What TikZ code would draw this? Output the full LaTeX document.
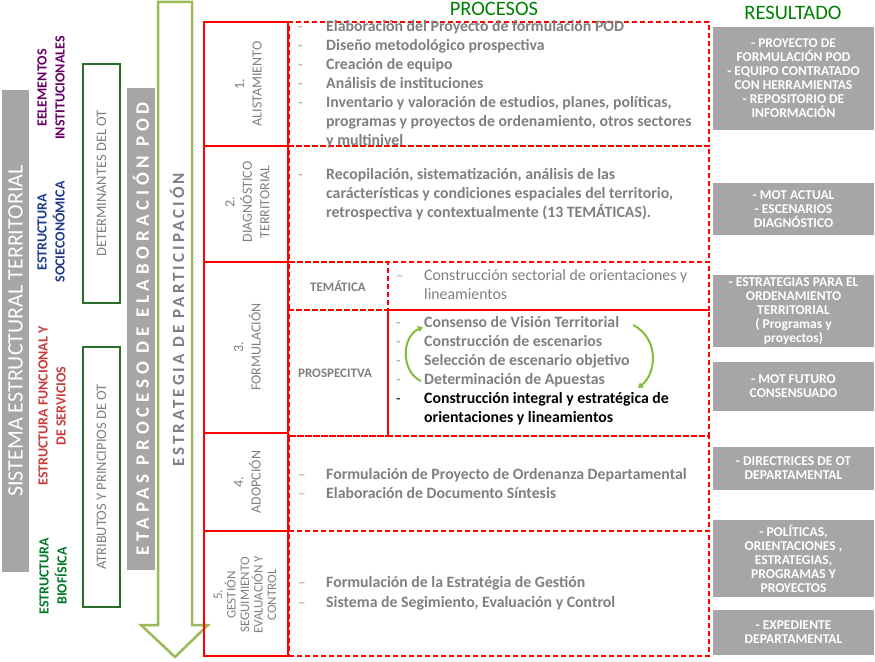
\documentclass[tikz,border=0pt]{standalone}
\usepackage{fontspec}
\setmainfont{Carlito}
\usetikzlibrary{arrows.meta}
\definecolor{redl}{RGB}{255,0,0}
\definecolor{grayt}{RGB}{127,127,127}
\definecolor{grayd}{RGB}{160,160,160}
\definecolor{grayb}{RGB}{166,166,166}
\definecolor{arrowgreen}{RGB}{155,187,89}
\definecolor{hdrgreen}{RGB}{0,128,0}
\definecolor{purp}{RGB}{102,0,102}
\definecolor{navyb}{RGB}{32,56,140}
\definecolor{dred}{RGB}{200,60,60}
\definecolor{dgreen}{RGB}{0,120,40}
\definecolor{boxgreen}{RGB}{40,110,40}
\definecolor{curvegreen}{RGB}{130,190,60}
\begin{document}
\begin{tikzpicture}[x=1pt,y=-1pt,
  stagebox/.style={draw=redl, line width=1.3pt, inner sep=0pt, outer sep=0pt, anchor=north west},
  dbox/.style={draw=redl, dash pattern=on 5pt off 3pt, line width=1.1pt, inner sep=0pt, outer sep=0pt, anchor=north west},
  proc/.style={text=grayt, font=\bfseries\fontsize{15.8}{19}\selectfont, inner sep=0pt, anchor=base west},
  procn/.style={text=grayt, font=\fontsize{15.8}{19}\selectfont, inner sep=0pt, anchor=base west},
  procb/.style={text=black, font=\bfseries\fontsize{15.8}{19}\selectfont, inner sep=0pt, anchor=base west},
  dashmark/.style={text=grayd, font=\fontsize{15}{19}\selectfont, inner sep=0pt, anchor=base west},
  slabel/.style={text=grayt, font=\fontsize{14}{17.5}\selectfont, rotate=90, align=center, inner sep=0pt},
  sublabel/.style={text=grayt, font=\bfseries\fontsize{13}{15}\selectfont, inner sep=0pt},
  rbox/.style={fill=grayb, text=white, font=\bfseries\fontsize{13.5}{14}\selectfont, align=center, minimum width=161pt, inner sep=0pt},
  leftlab/.style={font=\bfseries\fontsize{14}{18}\selectfont, rotate=90, align=center, inner sep=0pt},
  graybar/.style={fill=grayb, text=white, rotate=90, inner sep=0pt},
  greenbox/.style={draw=boxgreen, line width=1.1pt, text=grayt, font=\fontsize{14.5}{16}\selectfont, rotate=90, inner sep=0pt},
  hdr/.style={text=hdrgreen, font=\fontsize{20.5}{24}\selectfont, inner sep=0pt},
  curve/.style={draw=curvegreen, line width=2pt, -{Triangle[length=5pt,width=6pt]}}
]
\useasboundingbox (0,0) rectangle (875,661);

% big participation arrow
\draw[draw=arrowgreen, line width=2.5pt, fill=white, line join=miter]
  (158,2) -- (192,2) -- (192,625) -- (208,625) -- (175,657) -- (141,625) -- (158,625) -- cycle;
\node[text=grayt, font=\bfseries\fontsize{17}{20}\selectfont\addfontfeature{LetterSpace=18}, rotate=90, inner sep=0pt] (estr) at (177,320) {ESTRATEGIA DE PARTICIPACIÓN};

% gray bars
\node[graybar, minimum width=482pt, minimum height=27pt, font=\fontsize{22}{26}\selectfont] (sis) at (15.5,331) {SISTEMA ESTRUCTURAL TERRITORIAL};
\node[graybar, minimum width=482pt, minimum height=28pt, font=\bfseries\fontsize{19}{22}\selectfont\addfontfeature{LetterSpace=25}] (etapas) at (141,329) {ETAPAS PROCESO DE ELABORACIÓN POD};

% left labels
\node[leftlab, text=purp] (inst) at (51,88) {EELEMENTOS\\INSTITUCIONALES};
\node[leftlab, text=navyb] (socio) at (51,232) {ESTRUCTURA\\SOCIECONÓMICA};
\node[leftlab, text=dred] (func) at (52,406) {ESTRUCTURA FUNCIONAL Y\\DE  SERVICIOS};
\node[leftlab, text=dgreen] (bio) at (53,576) {ESTRUCTURA\\BIOFÍSICA};

% green outlined boxes
\node[greenbox, minimum width=239pt, minimum height=37pt] (det) at (101.5,183.5) {DETERMINANTES DEL OT};
\node[greenbox, minimum width=260pt, minimum height=37pt] (atr) at (101.5,477) {ATRIBUTOS Y PRINCIPIOS DE OT};

% headers
\node[hdr] (hproc) at (494,9) {PROCESOS};
\node[hdr] (hres) at (793,13) {RESULTADO};

% stage boxes
\node[stagebox, minimum width=84pt, minimum height=124pt] (st1) at (204,22) {};
\node[stagebox, minimum width=84pt, minimum height=116pt] (st2) at (204,146) {};
\node[stagebox, minimum width=84pt, minimum height=171pt] (st3) at (204,262) {};
\node[stagebox, minimum width=84pt, minimum height=98pt] (st4) at (204,433) {};
\node[stagebox, minimum width=84pt, minimum height=125pt] (st5) at (204,531) {};

% process boxes
\node[dbox, minimum width=420pt, minimum height=124pt] (p1) at (289,22) {};
\node[dbox, minimum width=420pt, minimum height=116pt] (p2) at (289,146) {};
\node[dbox, minimum width=99pt, minimum height=48pt] (p3a) at (289,262) {};
\node[dbox, minimum width=321pt, minimum height=48pt] (p3b) at (388,262) {};
\node[dbox, minimum width=99pt, minimum height=126pt] (p3c) at (289,310) {};
\node[dbox, minimum width=321pt, minimum height=126pt] (p3d) at (388,310) {};
\node[dbox, minimum width=420pt, minimum height=95pt] (p4) at (289,436) {};
\node[dbox, minimum width=420pt, minimum height=125pt] (p5) at (289,531) {};

% stage labels
\node[slabel] (l1) at (248.5,84) {1.\\ALISTAMIENTO};
\node[slabel] (l2) at (247.5,202) {2.\\DIAGNÓSTICO\\TERRITORIAL};
\node[slabel] (l3) at (247.5,347) {3.\\FORMULACIÓN};
\node[slabel] (l4) at (247.5,482) {4.\\ADOPCIÓN};
\node[slabel, font=\fontsize{13}{13.5}\selectfont] (l5) at (245,595) {5.\\GESTIÓN\\SEGUIMIENTO\\EVALUACIÓN Y\\CONTROL};

\node[sublabel] (tem) at (338,286) {TEMÁTICA};
\node[sublabel] (pros) at (335,373) {PROSPECITVA};

% stage 1 text
\foreach \t [count=\i] in {{Elaboración del Proyecto de formulación POD},{Diseño metodológico prospectiva},{Creación de equipo},{Análisis de instituciones},{Inventario y valoración  de estudios, planes, políticas,},{programas y  proyectos de ordenamiento, otros sectores},{y multinivel}}
  \node[proc] (a\i) at (326,{31.5+19*(\i-1)}) {\t};
\foreach \i in {1,...,5}
  \node[dashmark] (ad\i) at (298,{31.5+19*(\i-1)}) {-};

% stage 2 text
\foreach \t [count=\i] in {{Recopilación,  sistematización, análisis de las},{carácterísticas y condiciones espaciales del territorio,},{retrospectiva y contextualmente (13 TEMÁTICAS).}}
  \node[proc] (b\i) at (326,{179.5+19*(\i-1)}) {\t};
\node[dashmark] (bd1) at (298,179.5) {-};

% stage 3 tematica
\node[procn] (c1) at (424,280.5) {Construcción sectorial de orientaciones y};
\node[procn] (c2) at (424,299.5) {lineamientos};
\node[dashmark] (cd1) at (396,280.5) {–};

% stage 3 prospectiva
\foreach \t [count=\i] in {{Consenso de Visión Territorial},{Construcción de escenarios},{Selección  de escenario objetivo},{Determinación de Apuestas}}
  \node[proc] (d\i) at (424,{327.5+19*(\i-1)}) {\t};
\foreach \i in {1,...,4}
  \node[dashmark] (dd\i) at (396,{327.5+19*(\i-1)}) {-};
\node[procb] (d5) at (424,403.5) {Construcción integral y estratégica de};
\node[procb] (d6) at (424,422.5) {orientaciones y lineamientos};
\node[dashmark, text=black] (dd5) at (396,403.5) {-};

% cycle arrows
\coordinate (cl1) at (421,381);
\coordinate (cl2) at (423,327);
\coordinate (cr1) at (633,325);
\coordinate (cr2) at (638,388);
\draw[curve] (cl1) .. controls (401,372) and (401,337) .. (cl2);
\draw[curve] (cr1) .. controls (659,338) and (657,373) .. (cr2);

% stage 4 text
\node[proc] (e1) at (326,479.5) {Formulación de Proyecto de Ordenanza Departamental};
\node[proc] (e2) at (326,498.5) {Elaboración de Documento Síntesis};
\node[dashmark] (ed1) at (298,479.5) {–};
\node[dashmark] (ed2) at (298,498.5) {–};

% stage 5 text
\node[proc] (f1) at (326,587.5) {Formulación de la Estratégia de Gestión};
\node[proc] (f2) at (326,607) {Sistema de Segimiento, Evaluación y Control};
\node[dashmark] (fd1) at (298,587.5) {–};
\node[dashmark] (fd2) at (298,607) {–};

% results
\node[rbox, minimum height=103pt] (r1) at (793.5,78.5) {- PROYECTO DE\\FORMULACIÓN POD\\- EQUIPO CONTRATADO\\CON HERRAMIENTAS\\- REPOSITORIO DE\\INFORMACIÓN};
\node[rbox, minimum height=52pt] (r2) at (793.5,209) {- MOT ACTUAL\\- ESCENARIOS\\DIAGNÓSTICO};
\node[rbox, minimum height=72pt] (r3) at (793.5,311) {- ESTRATEGIAS PARA EL\\ORDENAMIENTO\\TERRITORIAL\\( Programas y\\proyectos)};
\node[rbox, minimum height=49pt] (r4) at (793.5,386.5) {- MOT FUTURO\\CONSENSUADO};
\node[rbox, minimum height=43pt] (r5) at (793.5,468.5) {- DIRECTRICES DE OT\\DEPARTAMENTAL};
\node[rbox, minimum height=77pt] (r6) at (793.5,558.5) {- POLÍTICAS,\\ORIENTACIONES ,\\ESTRATEGIAS,\\PROGRAMAS Y\\PROYECTOS};
\node[rbox, minimum height=45pt] (r7) at (793.5,632.5) {- EXPEDIENTE\\DEPARTAMENTAL};
\end{tikzpicture}
\end{document}
